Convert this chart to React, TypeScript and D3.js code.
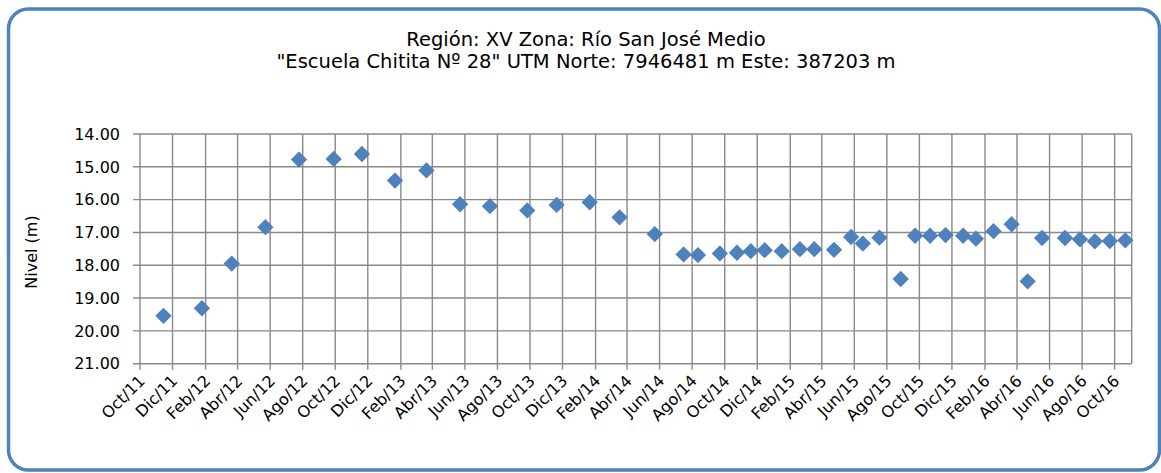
import * as d3 from 'd3'
import { useEffect, useRef } from 'react'

const titleLines = [
	'Región: XV Zona: Río San José Medio',
	'"Escuela Chitita Nº 28" UTM Norte: 7946481 m Este: 387203 m',
]
const yTitle = 'Nivel (m)'
const monthNames = ['Ene', 'Feb', 'Mar', 'Abr', 'May', 'Jun', 'Jul', 'Ago', 'Sep', 'Oct', 'Nov', 'Dic']
const yTicks = [14, 15, 16, 17, 18, 19, 20, 21]
const axisStart = '2011-10-01'
const axisEnd = '2016-11-02'

const dates = [
	'2011-11-14', '2012-01-25', '2012-03-21', '2012-05-23', '2012-07-25', '2012-09-28',
	'2012-11-20', '2013-01-21', '2013-03-21', '2013-05-23', '2013-07-18', '2013-09-26',
	'2013-11-20', '2014-01-21', '2014-03-18', '2014-05-23', '2014-07-16', '2014-08-12',
	'2014-09-22', '2014-10-24', '2014-11-19', '2014-12-15', '2015-01-16', '2015-02-19',
	'2015-03-18', '2015-04-24', '2015-05-26', '2015-06-17', '2015-07-18', '2015-08-27',
	'2015-09-23', '2015-10-21', '2015-11-19', '2015-12-22', '2016-01-15', '2016-02-17',
	'2016-03-22', '2016-04-21', '2016-05-18', '2016-06-30', '2016-07-28', '2016-08-25',
	'2016-09-22', '2016-10-21',
]
const levels = [
	19.54, 19.31, 17.95, 16.84, 14.78, 14.76,
	14.61, 15.42, 15.11, 16.14, 16.2, 16.33,
	16.16, 16.08, 16.54, 17.05, 17.67, 17.69,
	17.64, 17.62, 17.57, 17.54, 17.57, 17.51,
	17.51, 17.53, 17.14, 17.34, 17.16, 18.42,
	17.1, 17.1, 17.08, 17.1, 17.19, 16.96,
	16.75, 18.49, 17.17, 17.17, 17.21, 17.27,
	17.26, 17.24,
]

const W = 1161
const H = 473
const font = 'Verdana, "DejaVu Sans", sans-serif'

function App() {
	const svgRef = useRef(null)

	useEffect(() => {
		document.body.style.margin = '0'
		const svg = d3.select(svgRef.current)
		svg.selectAll('*').remove()

		const left = 140, right = 1131.7, top = 134, bottom = 363.7
		const x = d3.scaleUtc().domain([new Date(axisStart), new Date(axisEnd)]).range([left, right])
		const y = d3.scaleLinear().domain([14, 21]).range([top, bottom])
		const xTicks = d3.utcMonth.range(new Date(axisStart), new Date(axisEnd), 2)
		const grid = '#898989'

		// marco exterior
		svg.append('rect')
			.attr('x', 8.5).attr('y', 9).attr('width', 1151).attr('height', 461)
			.attr('rx', 20).attr('fill', 'white')
			.attr('stroke', '#4F81BD').attr('stroke-width', 3.5)

		const t = svg.append('text')
			.attr('text-anchor', 'middle').attr('font-family', font).attr('font-size', 19.5)
			.attr('fill', '#000')
		titleLines.forEach((s, i) => {
			t.append('tspan').attr('x', 586).attr('y', 46 + i * 22).text(s)
		})

		// rejilla horizontal
		svg.append('g').selectAll('line').data(yTicks).join('line')
			.attr('x1', left - 7).attr('x2', right)
			.attr('y1', d => y(d)).attr('y2', d => y(d))
			.attr('stroke', grid).attr('stroke-width', 1.4)

		// rejilla vertical
		svg.append('g').selectAll('line').data(xTicks).join('line')
			.attr('x1', d => x(d)).attr('x2', d => x(d))
			.attr('y1', top).attr('y2', bottom + 6)
			.attr('stroke', grid).attr('stroke-width', 1.4)

		svg.append('line')
			.attr('x1', right).attr('x2', right).attr('y1', top).attr('y2', bottom)
			.attr('stroke', grid).attr('stroke-width', 1.4)

		svg.append('g').selectAll('text').data(yTicks).join('text')
			.attr('x', 120).attr('y', d => y(d)).attr('dy', '0.36em')
			.attr('text-anchor', 'end').attr('font-family', font).attr('font-size', 16)
			.text(d => d.toFixed(2))

		svg.append('g').selectAll('text').data(xTicks).join('text')
			.attr('transform', d => `translate(${x(d) - 2},${374}) rotate(-45)`)
			.attr('text-anchor', 'end').attr('dy', '0.7em')
			.attr('font-family', font).attr('font-size', 16)
			.text(d => `${monthNames[d.getUTCMonth()]}/${String(d.getUTCFullYear()).slice(2)}`)

		svg.append('text')
			.attr('transform', `translate(37,252) rotate(-90)`)
			.attr('text-anchor', 'middle').attr('font-family', font).attr('font-size', 16)
			.text(yTitle)

		const diamond = d3.symbol().type(d3.symbolDiamond2).size(170)
		svg.append('g').selectAll('path').data(dates).join('path')
			.attr('transform', (d, i) => `translate(${x(new Date(d))},${y(levels[i])})`)
			.attr('d', diamond())
			.attr('fill', '#4F81BD')
	}, [])

	return <svg ref={svgRef} width={W} height={H} style={{ display: 'block' }} />
}

export default App
